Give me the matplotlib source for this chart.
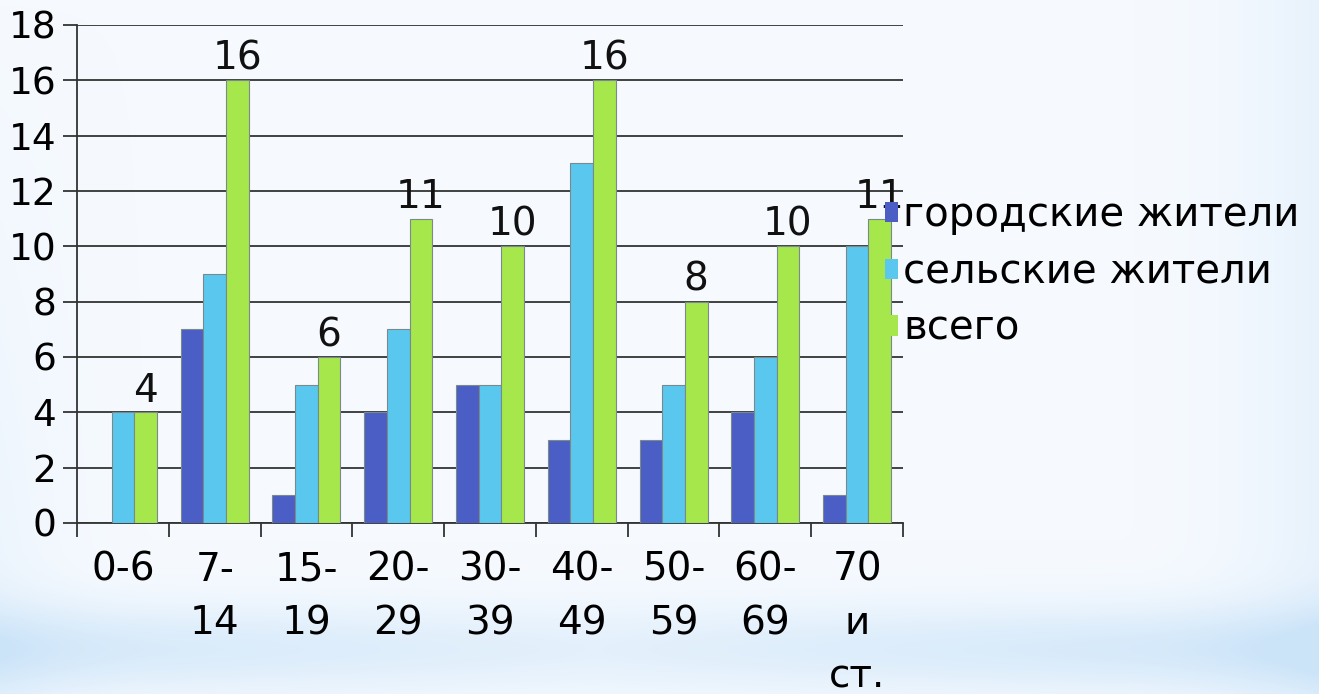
import numpy as np
import matplotlib
matplotlib.use("Agg")
import matplotlib.pyplot as plt
from matplotlib.ticker import FixedLocator, NullFormatter, FixedFormatter

categories = ["0-6", "7-\n14", "15-\n19", "20-\n29", "30-\n39", "40-\n49", "50-\n59", "60-\n69", "70\nи\nст."]
urban = [0, 7, 1, 4, 5, 3, 3, 4, 1]
rural = [4, 9, 5, 7, 5, 13, 5, 6, 10]
total = [4, 16, 6, 11, 10, 16, 8, 10, 11]
series_names = ["городские жители", "сельские жители", "всего"]
colors = ["#4a5ec6", "#5ac8ee", "#a6e84c"]
yticks = list(range(0, 19, 2))

plt.rcParams['font.family'] = ['DejaVu Sans']
fig = plt.figure(figsize=(13.19, 6.94), dpi=100)

# background gradient (decorative)
bg = fig.add_axes([0, 0, 1, 1], zorder=-10)
h, w = 347, 660
yy, xx = np.mgrid[0:h, 0:w]
xn = xx / (w - 1)
yn = yy / (h - 1)
base = np.array([0.965, 0.98, 0.998])
blue = np.array([0.80, 0.895, 0.975])
band = 0.85 * np.exp(-((yn - 0.937) / 0.065) ** 2) * (0.5 + 0.5 * np.abs(xn - 0.45) / 0.55)
edge = 0.35 * np.clip((xn - 0.85) / 0.15, 0, 1) ** 2 + 0.25 * np.clip((0.12 - xn) / 0.12, 0, 1) ** 2 * np.clip(yn / 0.9, 0, 1)
t = np.clip(band + edge, 0, 1)
img = base[None, None, :] * (1 - t[..., None]) + blue[None, None, :] * t[..., None]
bg.imshow(img, aspect='auto', extent=[0, 1, 0, 1], origin='upper')
bg.axis('off')

ax = fig.add_axes([0.0584, 0.2464, 0.6262, 0.7176])
ax.patch.set_alpha(0)
n = len(categories)
x = np.arange(n)
bw = 0.247
data = [urban, rural, total]
bars = []
for i, (vals, col, name) in enumerate(zip(data, colors, series_names)):
    b = ax.bar(x + (i - 1) * bw, vals, bw, color=col, edgecolor="#7a8a8a", linewidth=0.8,
               label=name, zorder=3)
    bars.append(b)

for rect, v in zip(bars[2], total):
    ax.text(rect.get_x() + rect.get_width() / 2, v + 0.1, str(v), ha='center', va='bottom',
            fontsize=28, color='#111111', zorder=4)

ax.set_xlim(-0.5, n - 0.5)
ax.set_ylim(0, 18)
ax.set_yticks(yticks)
ax.set_yticklabels([str(v) for v in yticks], fontsize=27)
ax.yaxis.grid(True, color='#333333', linewidth=1.3, zorder=1)
ax.set_axisbelow(True)
ax.xaxis.set_major_locator(FixedLocator(np.arange(-0.5, n, 1)))
ax.xaxis.set_major_formatter(NullFormatter())
ax.xaxis.set_minor_locator(FixedLocator(x))
ax.xaxis.set_minor_formatter(FixedFormatter(categories))
ax.tick_params(axis='x', which='minor', length=0, labelsize=28, pad=20)
ax.tick_params(axis='x', which='major', length=10, width=1.3, color='#333333')
ax.tick_params(axis='y', length=10, width=1.3, color='#333333', pad=5)
for lab in ax.xaxis.get_minorticklabels():
    lab.set_linespacing(1.52)
for s in ['top', 'right']:
    ax.spines[s].set_visible(False)
for s in ['left', 'bottom']:
    ax.spines[s].set_color('#333333')
    ax.spines[s].set_linewidth(1.3)

leg = fig.legend(handles=bars, labels=series_names, loc='upper left',
                 bbox_to_anchor=(0.659, 0.742), frameon=False, fontsize=29,
                 handlelength=0.32, handleheight=0.4, handletextpad=0.12,
                 labelspacing=0.42, borderaxespad=0)
for p in leg.get_patches():
    p.set_edgecolor('none')

fig.savefig("out.png", dpi=100)
